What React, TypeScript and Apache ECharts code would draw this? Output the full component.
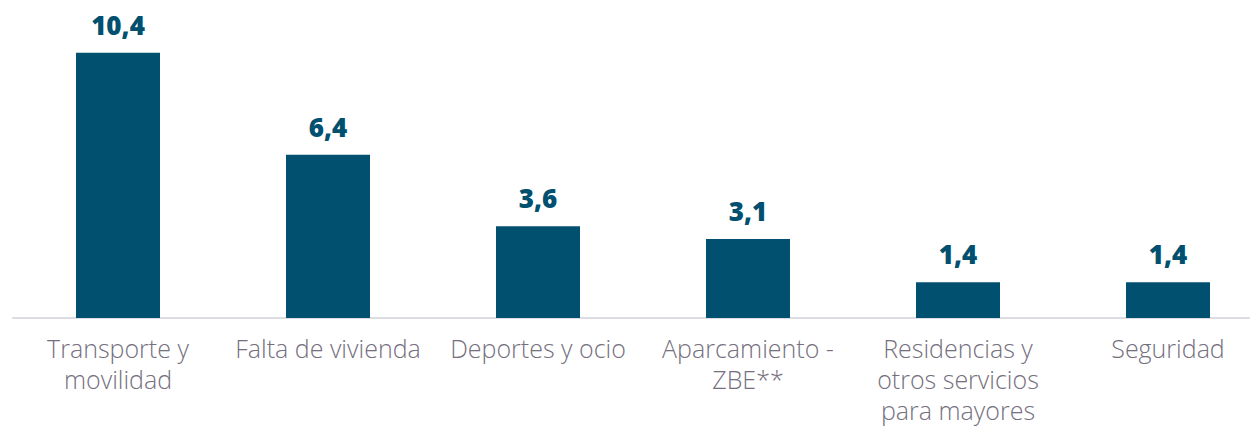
import React, { useEffect, useRef } from "react";
import * as echarts from "echarts";

const categories = [
  "Transporte y\nmovilidad",
  "Falta de vivienda",
  "Deportes y ocio",
  "Aparcamiento -\nZBE**",
  "Residencias y\notros servicios\npara mayores",
  "Seguridad",
];
const values = [10.4, 6.4, 3.6, 3.1, 1.4, 1.4];

export default function App() {
  const ref = useRef<HTMLDivElement>(null);
  useEffect(() => {
    const chart = echarts.init(ref.current!, null, { renderer: "svg" });
    chart.setOption({
      animation: false,
      grid: {
        left: 13,
        right: -23,
        top: 12,
        bottom: 110,
        containLabel: false,
        outerBoundsMode: "none",
      },
      xAxis: {
        type: "category",
        data: categories,
        axisLine: { lineStyle: { color: "#dcdce2", width: 2 } },
        axisTick: { show: false },
        axisLabel: {
          interval: 0,
          color: "#756f7e",
          fontFamily: "Open Sans",
          fontWeight: 300,
          fontSize: 25,
          lineHeight: 31,
          margin: 14,
        },
      },
      yAxis: {
        type: "value",
        min: 0,
        max: 12,
        show: false,
        splitLine: { show: false },
      },
      series: [
        {
          type: "bar",
          data: values,
          barWidth: 84,
          itemStyle: { color: "#01506f" },
          label: {
            show: true,
            position: "top",
            distance: 15,
            color: "#01506f",
            fontFamily: "Open Sans",
            fontWeight: 800,
            fontSize: 26,
            formatter: (p: any) => String(p.value).replace(".", ","),
          },
        },
      ],
    });
    return () => chart.dispose();
  }, []);
  return (
    <div
      ref={ref}
      style={{ position: "absolute", left: 0, top: 0, width: 1250, height: 428 }}
    />
  );
}
